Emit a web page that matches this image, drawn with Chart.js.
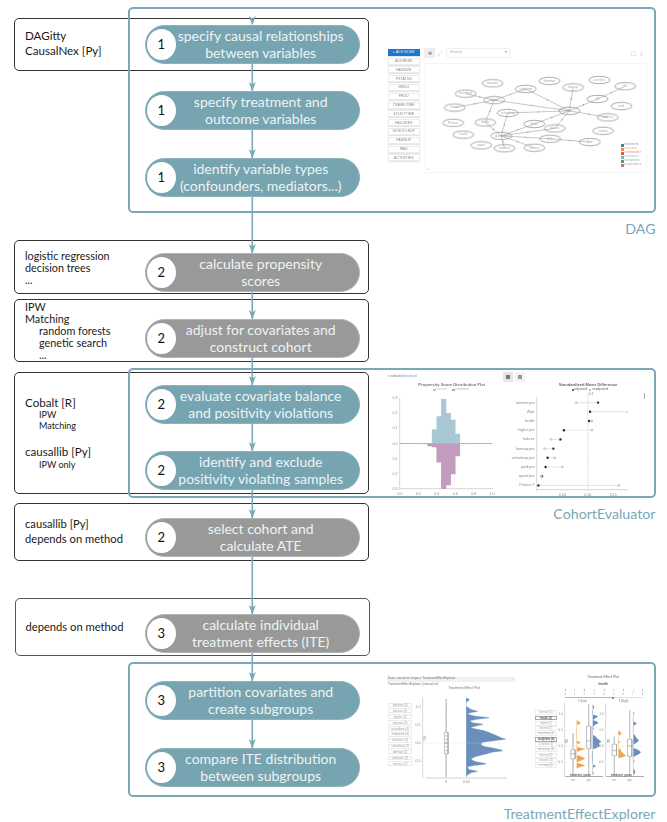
<!DOCTYPE html>
<html><head><meta charset="utf-8">
<script src="https://cdn.jsdelivr.net/npm/chart.js@4"></script>
<style>
html,body{margin:0;padding:0;background:#fff;width:667px;height:822px;overflow:hidden}
#page{position:absolute;left:0;top:0;width:667px;height:822px;overflow:hidden;font-family:"Lato",sans-serif}
.t{position:absolute;white-space:nowrap;transform:translateY(-50%);line-height:1}
.c{transform:translate(-50%,-50%)}
.r{transform:translate(-100%,-50%)}
.abs{position:absolute;box-sizing:border-box}
.mini{position:absolute;left:0;top:0;width:667px;height:822px;filter:blur(.45px);font-family:"Liberation Sans",sans-serif}
canvas{position:absolute}
</style></head><body><div id="page"></div>
<script>
/* ---------- flow chart content ---------- */
const toolBoxes=[[14,17.5,369,70.5],[14,240,369,294],[14,298.5,369,362],[14,372,369,493.5],[14,503,369,561],[15,598,370,656]];
const tealBoxes=[[128,7,656,213],[128,368,656,498],[128,662,656,797]];
const stepTops=[25,91,158,253,319,385,451,518,614,681,748];
const stepNums=[1,1,1,2,2,2,2,2,3,3,3];
const stepKinds=["t","t","t","g","g","t","t","g","g","t","t"];
const stepLine1=["specify causal relationships","specify treatment and","identify variable types","calculate propensity","adjust for covariates and","evaluate covariate balance","identify and exclude","select cohort and","calculate individual","partition covariates and","compare ITE distribution"];
const stepLine2=["between variables","outcome variables","(confounders, mediators...)","scores","construct cohort","and positivity violations","positivity violating samples","calculate ATE","treatment effects (ITE)","create subgroups","between subgroups"];
const leftTexts=[["DAGitty",25,36,11.6],["CausalNex [Py]",25,50.5,11.6],
["logistic regression",25,255.7,10.8],["decision trees",25,268,10.8],["...",25,280,10.8],
["IPW",25,306.7,10.8],["Matching",25,319,10.8],["random forests",39,331,10.8],["genetic search",39,343,10.8],["...",39,354.5,10.8],
["Cobalt [R]",25,402.7,11.6],["IPW",39,414.3,9],["Matching",39,424.7,9],["causallib [Py]",25,452,11.6],["IPW only",39,464,9],
["causallib [Py]",25,524.3,11.2],["depends on method",25,538.5,11.2],["depends on method",25.5,626.7,11.2]];
const toolNames=[["DAG",229],["CohortEvaluator",513.5],["TreatmentEffectExplorer",813.5]];

/* ---------- DAG ---------- */
const dagButtons=["ADDRESS","FAMSIZE","PSTATUS","MEDU","FEDU","TRAVELTIME","STUDYTIME","FAILURES","SCHOOLSUP","FAMSUP","PAID","ACTIVITIES"];
const dagNames=["romantic","freetime","activities","famsup","G3","studytime","traveltime","higher","famrel","G2","paid","G1","schoolsup","Pstatus","Medu","Fedu","address","failures","reason","absences","health","Walc","Dalc","goout","internet","nursery"];
const dagX=[330,510,668,585,750,435,245,335,210,662,738,573,378,205,307,462,695,527,680,357,237,512,638,294,368,462];
const dagY=[133,125,122,147,143,152,168,190,215,186,210,226,233,266,265,270,248,285,293,310,306,320,331,342,352,350];
const dagEdges=[["traveltime","higher"],["famrel","higher"],["higher","studytime"],["higher","G1"],["higher","Medu"],["studytime","G1"],["schoolsup","G1"],["schoolsup","absences"],["Medu","absences"],["absences","Fedu"],["Fedu","G1"],["absences","failures"],["failures","G1"],["absences","Walc"],["Walc","Dalc"],["absences","internet"],["absences","nursery"],["famsup","G1"],["G1","G2"],["G2","G3"],["G1","address"]];
const dagLegend=[["treatment","#4e79a7"],["outcome","#f28e2b"],["confounder","#e15759"],["mediators","#76b7b2"],["covariates","#59a14f"],["prognostics","#b07aa1"]];

/* ---------- propensity histogram ---------- */
const binLabels=["0.00","0.05","0.10","0.15","0.20","0.25","0.30","0.35","0.40","0.45","0.50","0.55","0.60","0.65","0.70","0.75","0.80","0.85","0.90","0.95"];
const controlBins=[0,0,0,0,0,0,0,0.093,0.178,0.293,0.2,0.155,0.062,0,0,0,0,0,0,0];
const treatedBins=[0,0,0,0,0,0,-0.015,-0.022,-0.122,-0.3,-0.273,-0.2,-0.082,0,0,0,0,0,0,0];
const psTicks=[-0.3,-0.2,-0.1,0,0.1,0.2,0.3];

/* ---------- standardized mean difference ---------- */
const smdLabels=["internet:yes","Walc","health","higher:yes","failures","famsup:yes","schoolsup:yes","paid:yes","goout:yes","Pstatus:T"];
const smdAdjusted=[0.12,0.1045,0.1026,0.053,0.046,0.032,0.021,0.017,0.0097,0.003];
const smdUnadjusted=[0.0774,0.179,0.108,0.108,0.027,0.015,0.035,0.05,0.009,0.161];

/* ---------- ITE overall ---------- */
const iteButtons=["famsize (2)","failures (4)","higher (2)","internet (2)","traveltime (4)","studytime (4)","activities (2)","schoolsup (2)","famsup (2)","romantic (2)","nursery (2)"];
const iteY=[1.25,1.23,1.20,1.15,1.11,1.04,.99,.93,.88,.85,.81,.75,.70,.65,.61,.56,.52,.47,.43,.38,.34,.25,.15,.11,.06,.02,-.05,-.10,-.16,-.21,-.25,-.30,-.37,-.44,-.50,-.57,-.62,-.66,-.73,-.78,-.83,-.89,-.94];
const iteD=[0,.04,.08,.03,0,0,.04,.13,.29,.17,.04,.21,.58,.25,.10,.18,.42,.25,.13,.29,.46,.67,.88,1,.67,.42,.38,.50,.79,.92,.67,.50,.25,.13,.21,.50,.21,.04,.08,.29,.10,.03,0];
const iteRug=[1.2,.99,.81,.7,.52,.34,.2,.1,0,-.1,-.21,-.37,-.5,-.57,-.73,-.78];
const iteBox=[-.94,-.30,0,.29,1.2];

/* ---------- ITE by subgroup ---------- */
const subButtons=["famsize (2)","health (5)","higher (2)","internet (2)","traveltime (4)","studytime (4)","activities (2)","schoolsup (2)","famsup (2)","romantic (2)","nursery (2)"];
const a1Y=[.81,.77,.72,.68,.63,.17,.13,.11,.08,.04,-.03,-.06,-.09,-.14,-.19,-.27,-.32,-.38,-.44,-.50,-.52,-.56,-.60,-.64,-.69];
const a1D=[0,4,12,5,0,0,8,12,5,0,0,12,24,10,0,0,12,25,15,0,0,12,24,12,0];
const a2Y=[1.29,1.25,1.22,1.17,1.14,.98,.93,.89,.83,.79,.76,.72,.67,.62,.58,.53,.48,.35,.30,.22,.14,.07,.01,-.05,-.11,-.57,-.60,-.63,-.67,-.78,-.83,-.91];
const a2D=[0,3,4,3,0,0,15,12,2,3,12,16,8,2,1,3,0,0,8,15,25,18,22,12,0,0,6,10,0,0,3,0];
const b1Y=[.48,.43,.40,.36,.32,.17,.12,.07,-.06,-.11,-.17,-.23,-.30,-.34,-.37];
const b1D=[0,6,10,6,0,0,5,0,0,6,9,14,22,12,0];
const b2Y=[1.06,1.01,.96,.78,.73,.70,.66,.62,.40,.33,.24,.17,.11,.04,-.06,-.11,-.19,-.26,-.34,-.42,-.47,-.52,-.67,-.76,-.83,-.91];
const b2D=[0,2,0,0,6,9,5,0,0,5,10,16,10,0,0,12,22,14,0,0,3,0,0,4,5,0];
const a1Box=[-.91,-.40,-.24,-.11,.40];
const a2Box=[-.91,-.08,.16,.62,1.32];
const b1Box=[-.91,-.30,-.14,.06,.30];
const b2Box=[-.91,-.32,.01,.21,1.11];
const sliderTicks=["0","1","2","3","4","5","6","7","8"];

/* ---------- helpers ---------- */
const page=document.getElementById('page');
const TEAL='#76a4b0',TEALB='#7aa8b4',GRAY='#999999';
function div(parent,cls,css,text){const d=document.createElement('div');d.className=cls;d.style.cssText=css;if(text!==undefined)d.textContent=text;parent.appendChild(d);return d;}
function txt(parent,s,x,y,size,color,cls,extra){return div(parent,'t '+(cls||''),`left:${x}px;top:${y}px;font-size:${size}px;color:${color};${extra||''}`,s);}
function box(parent,l,t,r,b,css){return div(parent,'abs',`left:${l}px;top:${t}px;width:${r-l}px;height:${b-t}px;${css}`);}

/* flow chart */
toolBoxes.forEach((b,i)=>box(page,b[0],b[1],b[2],b[3],`border:1px solid ${i==5?'#555':'#333'};border-radius:5px`));
tealBoxes.forEach(b=>box(page,b[0],b[1],b[2],b[3],`border:2px solid ${TEALB};border-radius:5px`));
leftTexts.forEach(a=>txt(page,a[0],a[1],a[2],a[3],'#1a1a1a'));
toolNames.forEach(a=>txt(page,a[0],655.5,a[1],14.2,TEALB,'r'));
const NS='http://www.w3.org/2000/svg';
const svg=document.createElementNS(NS,'svg');
svg.setAttribute('width',667);svg.setAttribute('height',822);svg.style.cssText='position:absolute;left:0;top:0';
const ln=document.createElementNS(NS,'line');
[['x1',252.3],['y1',60],['x2',252.3],['y2',748],['stroke',TEALB],['stroke-width',1.6]].forEach(a=>ln.setAttribute(a[0],a[1]));svg.appendChild(ln);
stepTops.forEach(t=>{const p=document.createElementNS(NS,'polygon');
 p.setAttribute('points',`252.3,${t+.5} 248.8,${t-9} 252.3,${t-6.5} 255.8,${t-9}`);p.setAttribute('fill',TEALB);svg.appendChild(p);});
page.appendChild(svg);
stepTops.forEach((t,i)=>{
 const col=stepKinds[i]=='t'?TEAL:GRAY;
 box(page,144.5,t,360,t+38.7,`background:${col};border-radius:19.4px;${stepKinds[i]=='g'?'border:1px solid #b4b4b4;':'border:1px solid #8db3bd;'}`);
 box(page,146.6,t+3.5,176,t+35.2,`background:#fff;border-radius:50%`);
 txt(page,String(stepNums[i]),161.2,t+19.3,13,'#111','c');
 txt(page,stepLine1[i],260.7,t+10.8,14,'#eef3f4','c');
 txt(page,stepLine2[i],260.7,t+27.9,14,'#eef3f4','c');
});

/* mini charts */
const mini=div(page,'mini','');
const SMALL={family:'"Liberation Sans",sans-serif',size:3.6};
Chart.defaults.animation=false;Chart.defaults.responsive=false;Chart.defaults.devicePixelRatio=1;
Chart.defaults.plugins.legend.display=false;Chart.defaults.plugins.tooltip.enabled=false;
function plot(R,m,cfg){
 const c=document.createElement('canvas');
 const w=Math.round(R.r-R.l+m.l+m.r),h=Math.round(R.b-R.t+m.t+m.b);
 c.width=w;c.height=h;c.style.left=(R.l-m.l)+'px';c.style.top=(R.t-m.t)+'px';c.style.width=w+'px';c.style.height=h+'px';
 mini.appendChild(c);
 cfg.options=cfg.options||{};cfg.options.layout={padding:{top:m.t,right:m.r,left:m.pl||0,bottom:m.pb||0}};
 return new Chart(c.getContext('2d'),cfg);
}
function axis(o){return Object.assign({offset:false,grid:{display:false,drawTicks:true,tickLength:1.5,color:'#ccc'},border:{color:'#dedede',width:1.2},ticks:{font:SMALL,color:'#888',padding:1,maxRotation:0,autoSkip:false}},o);}
function fixedTicks(list){return s=>{s.ticks=list.map(v=>({value:v}));};}
function W(n){return s=>{s.width=n;};}
function H(n){return s=>{s.height=n;};}
function seg(pts,color,width,dash){return {type:'scatter',showLine:true,data:pts,borderColor:color,borderWidth:width,pointRadius:0,fill:false,borderDash:dash||[],tension:0};}
function boxSets(x,hw,v,c){const [lo,q1,med,q3,hi]=v;c=c||'#c4c4c4';return [
 seg([{x:x,y:hi},{x:x,y:q3}],c,.7),seg([{x:x,y:q1},{x:x,y:lo}],c,.7),
 seg([{x:x-hw,y:q3},{x:x+hw,y:q3},{x:x+hw,y:q1},{x:x-hw,y:q1},{x:x-hw,y:q3}],'#a5a5a5',.7),
 seg([{x:x-hw,y:med},{x:x+hw,y:med}],'#999',.7)];}
function violin(base,ys,ds,color){return {type:'scatter',showLine:true,data:ys.map((y,i)=>({x:base+ds[i],y:y})),borderColor:color,backgroundColor:color,borderWidth:.3,pointRadius:0,fill:{value:base},tension:.25};}

/* --- DAG --- */
function btn(l,t,r,b,label,css){const d=box(mini,l,t,r,b,`background:#fff;border:.6px solid #ececec;box-shadow:0 .5px .6px #e4e4e4;font-size:3.6px;color:#8a8a8a;display:flex;align-items:center;justify-content:center;${css||''}`);d.textContent=label;return d;}
btn(388,48.7,419.5,56,'+ ADD NODE','background:#1976d2;color:#e8f1fb;border:none');
dagButtons.forEach((s,i)=>{const y=61+i*8.8;btn(388,y-3.5,419.5,y+3.5,s);});
box(mini,424,48,435,58,'background:#eee;border-radius:1px');
txt(mini,'✥',427.5,53,5,'#777');txt(mini,'⤢',438,53,5,'#aaa');
box(mini,446,48,510,58,'border:.6px solid #f0f0f0;border-radius:1px');
txt(mini,'Search',450,53.3,3.8,'#aaa');txt(mini,'▾',505,53,3.5,'#999');
txt(mini,'▢',631,53,6,'#bbb');txt(mini,'⤓',640,53,6,'#bbb');
box(mini,425,63.3,646.7,173.3,'border:.6px solid #f5f5f5');
txt(mini,'▫',427.5,168.5,5,'#aaa');
dagLegend.forEach((a,i)=>{const y=145.3+i*4;box(mini,620.6,y-1.7,623.6,y+1.7,`background:${a[1]}`);txt(mini,a[0],624.5,y,3.3,a[1],'','opacity:.75');});
const ell=document.createElement('canvas');ell.width=23;ell.height=10;
(()=>{const g=ell.getContext('2d');g.beginPath();g.ellipse(11.5,5,10.5,3.7,0,0,Math.PI*2);g.fillStyle='#fff';g.fill();g.strokeStyle='#666';g.lineWidth=.55;g.stroke();})();
const nidx=n=>dagNames.indexOf(n);
const edgeSets=dagEdges.map(e=>{const a=nidx(e[0]),b=nidx(e[1]);return seg([{x:dagX[a],y:dagY[a]},{x:dagX[b],y:dagY[b]}],'#8f8f8f',.5);});
const arrowPts=dagEdges.map(e=>{const a=nidx(e[0]),b=nidx(e[1]);return {x:(dagX[a]+dagX[b])/2,y:(dagY[a]+dagY[b])/2,r:Math.atan2(dagY[b]-dagY[a],dagX[b]-dagX[a])*180/Math.PI+90};});
plot({l:425,r:646.7,t:63.3,b:173.3},{l:0,r:0,t:0,b:0},{type:'scatter',
 data:{datasets:[...edgeSets,
  {data:arrowPts,pointStyle:'triangle',pointRadius:1,pointBackgroundColor:'#999',pointBorderWidth:0,pointRotation:arrowPts.map(p=>p.r)},
  {data:dagX.map((x,i)=>({x:x,y:dagY[i]})),pointStyle:ell,pointRadius:5}]},
 options:{scales:{x:{type:'linear',min:135,max:800,display:false},y:{type:'linear',min:85,max:415,reverse:true,display:false}}},
 plugins:[{id:'nodeNames',afterDatasetsDraw(ch){const g=ch.ctx;g.save();g.font='3px "Liberation Sans"';g.fillStyle='#aaa';g.textAlign='center';g.textBaseline='middle';
  dagNames.forEach((n,i)=>g.fillText(n,ch.scales.x.getPixelForValue(dagX[i]),ch.scales.y.getPixelForValue(dagY[i])));g.restore();}}]});

/* --- Propensity histogram --- */
txt(mini,'n selected,',388,377,3.2,'#777');txt(mini,'download',403,377,3.2,'#7aa7d0');
box(mini,503,372,513,382,'background:#e6e6e6;border-radius:1px');box(mini,514.5,372,525,382,'background:#f3f3f3;border-radius:1px');
box(mini,506,375,510,379,'background:#777');box(mini,517.5,375,521.5,379,'background:#999');
txt(mini,'Propensity Score Distribution Plot',451.7,384.8,4.1,'#777','c','font-weight:bold');
box(mini,433,388.6,436,391.2,'background:#a8c8d5');txt(mini,'control',437,390,3.2,'#a8c6d2');
box(mini,451.5,388.6,454.5,391.2,'background:#c39bbe');txt(mini,'treatment',455.5,390,3.2,'#c3a2bf');
plot({l:400,r:491.7,t:398.3,b:489},{l:12,r:4,t:3,b:6},{type:'bar',
 data:{labels:binLabels,datasets:[
  {data:controlBins,xAxisID:'xb',backgroundColor:'#a8c8d5',borderWidth:0,barThickness:4.6,grouped:false},
  {data:treatedBins,xAxisID:'xb',backgroundColor:'#c39bbe',borderWidth:0,barThickness:4.6,grouped:false},
  {type:'line',xAxisID:'x',data:[{x:0,y:0},{x:1,y:0}],borderColor:'#999',borderWidth:.6,borderDash:[1.5,1.5],pointRadius:0,order:-1}]},
 options:{scales:{
  xb:{axis:'x',type:'category',display:false,offset:true},
  x:axis({type:'linear',position:'bottom',min:0,max:1,ticks:{...axis({}).ticks,stepSize:.2,callback:v=>v.toFixed(1)},afterFit:H(6)}),
  y:axis({type:'linear',min:-.3,max:.3,afterBuildTicks:fixedTicks(psTicks),ticks:{...axis({}).ticks,callback:v=>Math.abs(v).toFixed(1)},afterFit:W(12)})}}});

/* --- SMD --- */
txt(mini,'Standardized Mean Difference',588,384.8,4.1,'#666','c','font-weight:bold');
box(mini,571.5,388.8,573.5,390.8,'background:#333;border-radius:50%');txt(mini,'adjusted',574.5,390,3.3,'#666');
box(mini,589,388.8,591,390.8,'border:.5px solid #888;border-radius:50%');txt(mini,'unadjusted',592,390,3.3,'#666');
box(mini,644,393,644.8,399,'background:#aaa');
const rowSets=smdLabels.map((l,i)=>seg([{x:smdAdjusted[i],y:l},{x:smdUnadjusted[i],y:l}],'#c8c8c8',.5));
plot({l:536.7,r:628,t:398,b:489.5},{l:26,r:4,t:6,b:6},{type:'scatter',
 data:{datasets:[...rowSets,
  {data:smdUnadjusted.map((v,i)=>({x:v,y:smdLabels[i]})),pointRadius:.9,pointBackgroundColor:'#fff',pointBorderColor:'#888',pointBorderWidth:.5},
  {data:smdAdjusted.map((v,i)=>({x:v,y:smdLabels[i]})),pointRadius:1.2,pointBackgroundColor:'#111',pointBorderWidth:0}]},
 options:{scales:{
  x:axis({type:'linear',min:0,max:.178,afterBuildTicks:fixedTicks([.05,.1,.15]),ticks:{...axis({}).ticks,callback:v=>v.toFixed(2)},afterFit:H(6)}),
  y:axis({type:'category',labels:smdLabels,offset:true,afterFit:W(26)})}},
 plugins:[{id:'ref',afterDatasetsDraw(ch){const g=ch.ctx,x=ch.scales.x.getPixelForValue(.1);g.save();g.strokeStyle='#999';g.lineWidth=.5;g.setLineDash([1.2,1.2]);g.beginPath();g.moveTo(x,ch.chartArea.top-4.5);g.lineTo(x,ch.chartArea.bottom);g.stroke();g.setLineDash([]);g.font='3.2px "Liberation Sans"';g.fillStyle='#777';g.fillText('0.1',x+1,ch.chartArea.top-3.5);g.restore();}}]});

/* --- ITE overall --- */
box(mini,387,677,515,682,'background:#f0f0f0');
txt(mini,'Data: causal-ite; Impact: TreatmentEffectExplorer',388,679.4,3.1,'#777');
txt(mini,'TreatmentEffectExplorer (interactive)',388,684.6,3.1,'#777');
txt(mini,'Treatment Effect Plot',464,689.3,3.4,'#777','c');
iteButtons.forEach((s,i)=>{const y=705+i*5.88;btn(388,y-2.4,412.3,y+2.4,s,'font-size:3px;box-shadow:none;color:#a0a0a0');});
box(mini,426,777,506.7,779,'background:#e9e9e9');
txt(mini,'ITE',425.5,737.5,3.2,'#777','c','transform:translate(-50%,-50%) rotate(-90deg)');
plot({l:423.3,r:506.7,t:696.7,b:776.7},{l:8,r:4,t:3,b:6},{type:'scatter',
 data:{datasets:[
  seg([{x:-1.083,y:0},{x:1,y:0}],'#d0d0d0',.5,[1.2,1.2]),
  ...boxSets(-.5,.045,iteBox),
  {data:iteRug.map(y=>({x:-.5,y:y})),pointRadius:.8,pointBackgroundColor:'#a9bfd6',pointBorderWidth:0},
  violin(0,iteY,iteD,'#6a8fbc')]},
 options:{indexAxis:'y',scales:{
  x:axis({type:'linear',min:-1.083,max:1,border:{display:false},afterBuildTicks:fixedTicks([-.5,0]),ticks:{...axis({}).ticks,callback:v=>v==0?'0.00':'0'},afterFit:H(6)}),
  y:axis({type:'linear',min:-.936,max:1.245,afterBuildTicks:fixedTicks([-.5,0,.5,1]),ticks:{...axis({}).ticks,callback:v=>v.toFixed(1)},afterFit:W(8)})}}});

/* --- ITE subgroups --- */
txt(mini,'Treatment Effect Plot',603,678,3.4,'#666','c');
txt(mini,'health',603,685.3,3.1,'#555','c','font-weight:bold');
box(mini,565,697,642.7,697.6,'background:#e2e2e2');
box(mini,565,697.4,613.3,698.2,'background:#9dbddb');
box(mini,612.2,696.6,614.2,698.8,'background:#3b75b5;border-radius:50%');
sliderTicks.forEach((s,i)=>{const x=565+i*9.7;box(mini,x-.3,689.4,x+.3,691.4,'background:'+(i%2?'#ddd':'#9dbddb'));txt(mini,s,x,694,2.8,'#aaa','c');});
subButtons.forEach((s,i)=>{const y=712.7+i*5.32;btn(535,y-2.3,557,y+2.3,s,'font-size:2.7px;box-shadow:none;color:#a5a5a5;'+((i==1||i==5)?'border-color:#aaa;color:#555;font-weight:bold':''));});
txt(mini,'0 (low)',582.5,700.7,2.8,'#777','c');txt(mini,'1 (high)',623.5,700.7,2.8,'#777','c');
function panel(l,r,datasets){
 plot({l:l,r:r,t:703.3,b:776.7},{l:7,r:3,t:2,b:6},{type:'scatter',data:{datasets:datasets},
 options:{indexAxis:'y',scales:{
  x:axis({type:'linear',min:0,max:(r-l)*3,afterBuildTicks:fixedTicks([24,71]),border:{color:'#777',width:.6},ticks:{...axis({}).ticks,font:{...SMALL,size:2.8},callback:v=>v<40?'no':'yes'},afterFit:H(6)}),
  y:axis({type:'linear',min:-.929,max:1.316,afterBuildTicks:fixedTicks([-.5,0,.5,1]),ticks:{...axis({}).ticks,font:{...SMALL,size:2.8},callback:v=>v.toFixed(1)},afterFit:W(7)})}}});
}
panel(565,602,[seg([{x:0,y:0},{x:111,y:0}],'#d0d0d0',.5,[1.2,1.2]),
 ...boxSets(24,6.5,a1Box),...boxSets(71,6.2,a2Box),
 violin(35,a1Y,a1D,'#f0a54c'),violin(83,a2Y,a2D,'#6a8fbc')]);
panel(606,643,[seg([{x:0,y:0},{x:111,y:0}],'#d0d0d0',.5,[1.2,1.2]),
 ...boxSets(25,6.5,b1Box),...boxSets(71,6.5,b2Box),
 violin(37,b1Y,b1D,'#f0a54c'),violin(82,b2Y,b2D,'#6a8fbc')]);
txt(mini,'ITE',567,741,2.8,'#666','c','transform:translate(-50%,-50%) rotate(-90deg)');
txt(mini,'ITE',608.5,741,2.8,'#666','c','transform:translate(-50%,-50%) rotate(-90deg)');
txt(mini,'treatment_group',570,776,2.6,'#555','','font-weight:bold');
txt(mini,'treatment_group',611,776,2.6,'#555','','font-weight:bold');
</script></body></html>
